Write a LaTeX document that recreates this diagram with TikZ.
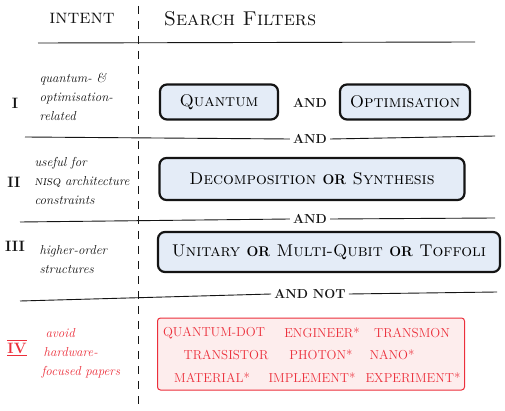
\documentclass[tikz,border=0pt]{standalone}
\usepackage{amsmath}
\usepackage{xcolor}
\usepackage{tikz}
\usetikzlibrary{positioning}
\definecolor{ink}{HTML}{141414}
\definecolor{boxfill}{HTML}{E4ECF7}
\definecolor{redink}{HTML}{EC2F3B}
\definecolor{redfill}{HTML}{FDEDED}
\newcommand{\conj}[1]{{\upshape\bfseries\fontsize{14}{16}\selectfont #1}}
\tikzset{
  rule/.style={draw=ink, line width=0.9pt},
  dashedline/.style={draw=ink, line width=1pt, dash pattern=on 8pt off 7pt},
  filterbox/.style={draw=ink, line width=2.2pt, fill=boxfill, rounded corners=7pt,
    font=\fontsize{17}{19}\selectfont\scshape},
  redbox/.style={draw=redink, line width=1pt, fill=redfill, rounded corners=3pt},
  term/.style={text=redink, font=\fontsize{13}{15}\selectfont},
  joiner/.style={text=ink, font=\fontsize{13}{15}\selectfont\bfseries, inner sep=3pt},
  head/.style={text=ink, font=\fontsize{20}{22}\selectfont\scshape},
  intent/.style={text=ink, font=\fontsize{13}{19}\selectfont\itshape, align=left, anchor=west},
  numeral/.style={text=ink, font=\fontsize{15}{17}\selectfont\bfseries}
}

\begin{document}
\begin{tikzpicture}[x=1pt, y=-1pt]
  \useasboundingbox (0,0) rectangle (505,411);
  \fill[white] (0,0) rectangle (505,411);

  % column heads
  \node[head] (intenthd) at (82,18) {intent};
  \node[head] (filterhd) at (240,19) {Search Filters};
  \coordinate (divtop) at (138,6);
  \coordinate (divbot) at (138,411);
  \draw[dashedline] (divtop) -- (divbot);
  \coordinate (hdl) at (38,43);
  \coordinate (hdr) at (475,42);
  \draw[rule] (hdl) -- (hdr);

  % I
  \node[numeral] (num1) at (15,103) {I};
  \node[intent] (why1) at (36,97) {quantum- \&\\optimisation-\\related};
  \node[filterbox, minimum width=118pt, minimum height=35pt] (quantum) at (219,102) {Quantum};
  \node[joiner] (andq) at (310,103) {AND};
  \node[filterbox, minimum width=130pt, minimum height=35pt] (optim) at (405,102) {Optimisation};

  \coordinate (sep1l) at (25,137);
  \coordinate (sep1r) at (495,136);
  \node[joiner] (and1) at (310,139) {AND};
  \draw[rule] (sep1l) -- (and1.west);
  \draw[rule] (and1.east) -- (sep1r);

  % II
  \node[numeral] (num2) at (14,182) {II};
  \node[intent] (why2) at (31,181) {useful for\\\textsc{nisq} architecture\\constraints};
  \node[filterbox, minimum width=305pt, minimum height=42pt] (decomp) at (312,179)
    {Decomposition \conj{OR} Synthesis};

  \coordinate (sep2l) at (20,222);
  \coordinate (sep2r) at (495,218);
  \node[joiner] (and2) at (310,219) {AND};
  \draw[rule] (sep2l) -- (and2.west);
  \draw[rule] (and2.east) -- (sep2r);

  % III
  \node[numeral] (num3) at (15,246) {III};
  \node[intent] (why3) at (36,260) {higher-order\\structures};
  \node[filterbox, minimum width=342pt, minimum height=40pt] (gates) at (329,252)
    {Unitary \conj{OR} Multi-Qubit \conj{OR} Toffoli};

  \coordinate (sep3l) at (20,301);
  \coordinate (sep3r) at (497,292);
  \node[joiner] (andnot) at (310,294) {AND NOT};
  \draw[rule] (sep3l) -- (andnot.west);
  \draw[rule] (andnot.east) -- (sep3r);

  % IV
  \node[numeral, text=redink] (num4) at (17,348) {$\overline{\underline{\text{IV}}}$};
  \node[intent, text=redink] (why4) at (38,353) {\hspace{4pt}avoid\\\hspace{2pt}hardware-\\focused papers};
  \node[redbox, minimum width=307pt, minimum height=72pt] (avoid) at (311,354) {};

  \node[term] (qdot) at (214,333) {QUANTUM-DOT};
  \node[term] (engin) at (322,333) {ENGINEER*};
  \node[term] (transm) at (412,333) {TRANSMON};
  \node[term] (transi) at (226,355) {TRANSISTOR};
  \node[term] (photon) at (321,355) {PHOTON*};
  \node[term] (nano) at (392,355) {NANO*};
  \node[term] (mater) at (212,378) {MATERIAL*};
  \node[term] (implem) at (312,378) {IMPLEMENT*};
  \node[term] (exper) at (413,378) {EXPERIMENT*};
\end{tikzpicture}
\end{document}
